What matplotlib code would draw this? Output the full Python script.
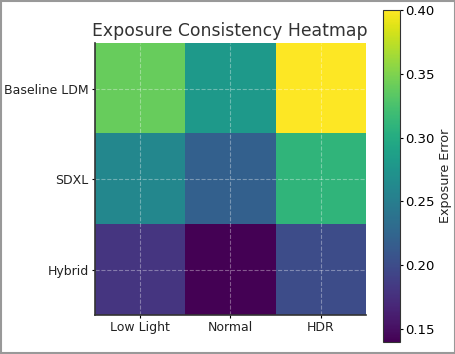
import matplotlib
matplotlib.use("Agg")
import matplotlib.pyplot as plt
import matplotlib.patches as patches
import numpy as np

# Heatmap data
models = ['Baseline LDM', 'SDXL', 'Hybrid']
conditions = ['Low Light', 'Normal', 'HDR']
baseline_ldm = [0.34, 0.28, 0.40]
sdxl = [0.26, 0.22, 0.31]
hybrid = [0.18, 0.14, 0.20]

errors = np.array([baseline_ldm, sdxl, hybrid])

fig = plt.figure(figsize=(4.56, 3.54), dpi=100)
ax = fig.add_axes([0.208, 0.110, 0.594, 0.768])
cax = fig.add_axes([0.840, 0.034, 0.037, 0.938])

im = ax.imshow(errors, cmap='viridis', vmin=0.14, vmax=0.40, aspect='auto')
ax.set_xticks(range(len(conditions)))
ax.set_xticklabels(conditions, fontsize=9, color='#222222')
ax.set_yticks(range(len(models)))
ax.set_yticklabels(models, fontsize=9, color='#222222')
ax.tick_params(length=2.5, width=0.8, pad=2)
ax.set_title('Exposure Consistency Heatmap', fontsize=12.4, color='#333333', pad=5)
ax.grid(True, linestyle='--', color='white', alpha=0.35, linewidth=0.8)
ax.spines['top'].set_visible(False)
ax.spines['right'].set_visible(False)
for s in ['left', 'bottom']:
    ax.spines[s].set_color('#333333')
    ax.spines[s].set_linewidth(1.2)

cb = fig.colorbar(im, cax=cax)
cb.set_label('Exposure Error', fontsize=9.2, color='#222222', labelpad=3)
cb.set_ticks([0.15, 0.20, 0.25, 0.30, 0.35, 0.40])
cb.ax.tick_params(labelsize=9.5, length=2, pad=2)
cb.outline.set_edgecolor('#333333')

# gray screenshot frame
fig.patches.append(patches.Rectangle((0.003, 0.003), 0.994, 0.994, transform=fig.transFigure,
                                     fill=False, edgecolor='#999999', linewidth=1.5))

fig.savefig('out.png', dpi=100)
